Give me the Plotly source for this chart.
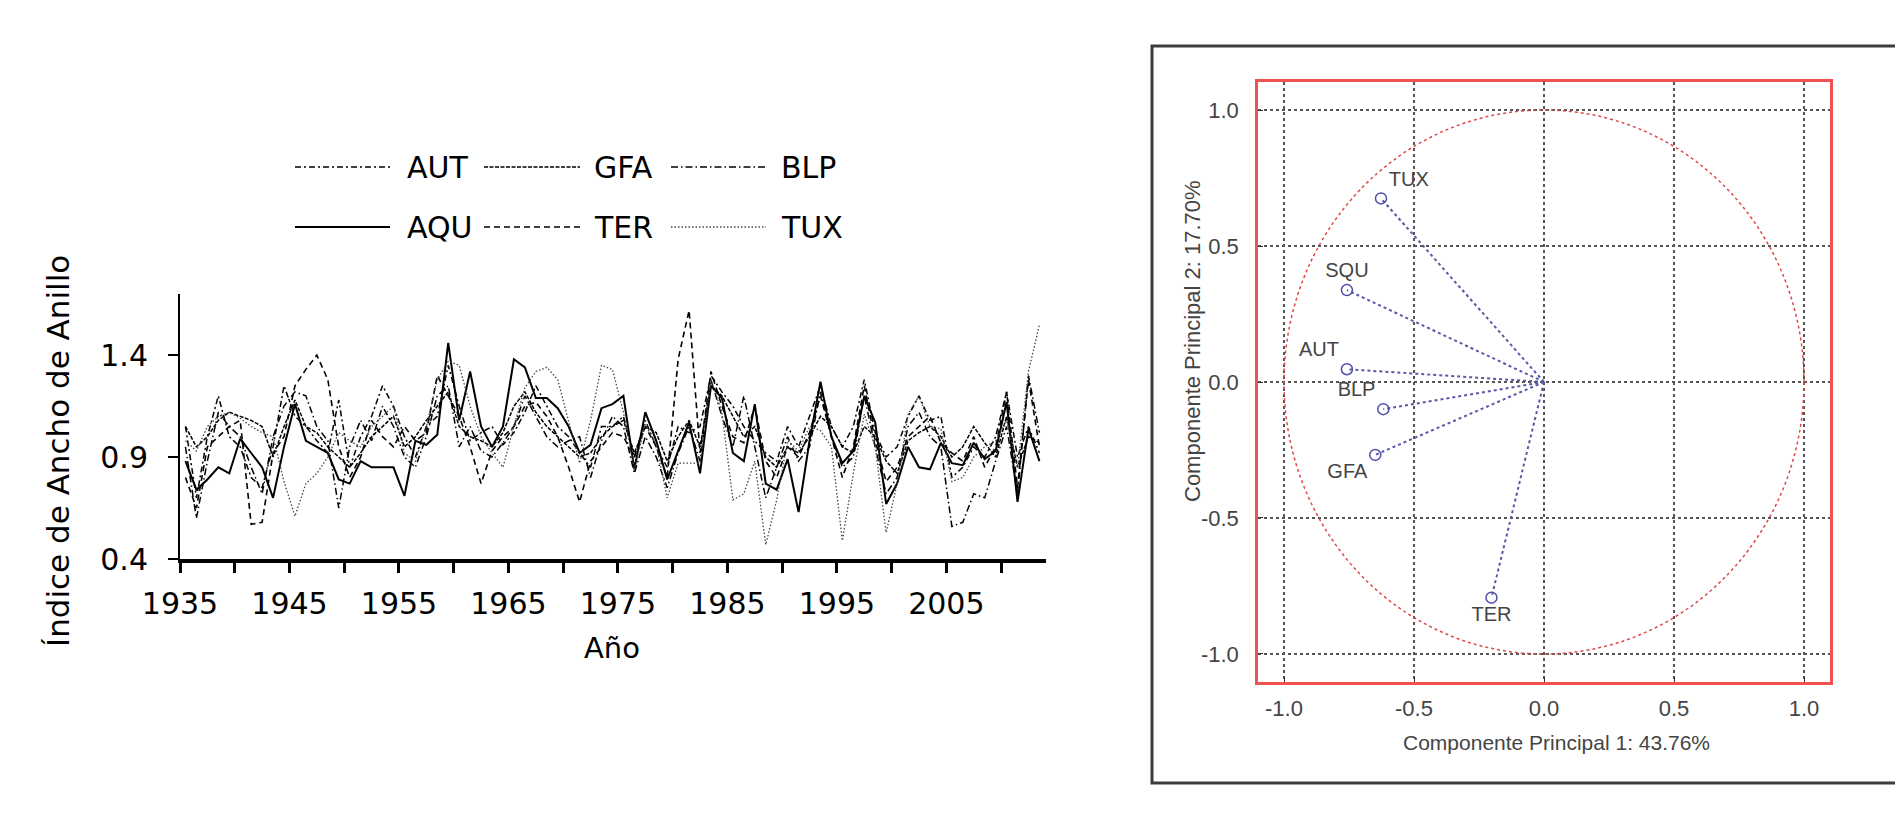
import plotly.graph_objects as go

W, H = 1903, 822
OFF = 8  # the page body margin shifts the figure by this many pixels

years = list(range(1935, 2014))

AQU = [0.88, 0.74, 0.79, 0.85, 0.82, 0.99, 0.92, 0.85, 0.70, 0.95,
       1.16, 0.98, 0.95, 0.92, 0.79, 0.77, 0.88, 0.85, 0.85, 0.85,
       0.71, 0.98, 0.96, 1.01, 1.46, 1.08, 1.32, 1.05, 0.95, 1.05,
       1.38, 1.34, 1.19, 1.19, 1.14, 1.05, 0.92, 0.96, 1.14, 1.16,
       1.20, 0.84, 1.12, 0.98, 0.79, 0.93, 1.07, 0.82, 1.25, 1.19,
       0.92, 0.88, 1.16, 0.77, 0.74, 0.89, 0.63, 0.98, 1.27, 1.00,
       0.87, 0.93, 1.20, 1.07, 0.67, 0.77, 0.95, 0.85, 0.84, 0.97,
       0.87, 0.86, 0.97, 0.89, 0.93, 1.17, 0.68, 1.04, 0.88]

TUX = [0.98, 0.93, 1.05, 1.10, 1.12, 1.09, 1.05, 1.02, 1.00, 0.78,
       0.61, 0.77, 0.82, 0.90, 1.02, 0.98, 0.95, 1.05, 1.10, 1.15,
       0.92, 0.88, 1.05, 1.28, 1.37, 1.35, 1.15, 1.00, 0.92, 0.85,
       1.05, 1.24, 1.32, 1.34, 1.28, 1.08, 0.87, 1.08, 1.35, 1.33,
       1.12, 0.84, 1.06, 0.96, 0.70, 0.87, 0.87, 0.87, 1.28, 1.12,
       0.69, 0.72, 0.88, 0.47, 0.69, 0.98, 0.93, 1.05, 1.03, 0.95,
       0.49, 0.82, 1.11, 0.95, 0.53, 0.77, 1.11, 1.20, 1.05, 1.04,
       0.78, 0.80, 0.90, 0.95, 0.98, 1.08, 0.85, 1.32, 1.55]

TER = [0.80, 0.65, 0.95, 1.00, 1.05, 1.08, 0.57, 0.58, 0.92, 1.00,
       1.25, 1.33, 1.40, 1.28, 0.95, 0.80, 0.90, 1.08, 1.00, 0.95,
       1.05, 0.98, 1.02, 1.30, 1.20, 1.10, 0.95, 0.77, 0.93, 1.00,
       1.05, 1.15, 1.17, 1.10, 1.00, 0.85, 0.68, 0.88, 0.95, 1.02,
       1.00, 0.90, 1.05, 0.95, 0.80, 1.38, 1.62, 0.92, 1.32, 1.15,
       1.00, 0.97, 1.15, 0.88, 0.80, 0.95, 0.90, 1.02, 1.20, 1.00,
       0.80, 0.95, 1.25, 0.98, 0.78, 0.85, 1.00, 1.05, 1.10, 0.97,
       0.92, 0.88, 1.00, 0.85, 0.95, 1.22, 0.75, 1.28, 0.95]

GFA = [1.05, 0.95, 1.00, 1.08, 1.12, 1.10, 1.08, 1.05, 0.90, 1.05,
       1.18, 1.05, 1.02, 0.95, 0.90, 0.85, 0.92, 1.00, 1.05, 1.10,
       0.95, 1.00, 1.08, 1.15, 1.22, 1.05, 1.00, 0.98, 0.95, 1.02,
       1.15, 1.22, 1.12, 1.05, 1.00, 0.95, 0.90, 0.92, 1.00, 1.05,
       1.08, 0.92, 1.05, 1.02, 0.88, 1.00, 1.08, 0.95, 1.25, 1.20,
       1.10, 1.00, 1.05, 0.90, 0.85, 0.95, 0.92, 1.00, 1.10, 1.05,
       0.95, 0.92, 1.05, 1.00, 0.88, 0.82, 0.98, 1.02, 1.05, 1.00,
       0.90, 0.95, 1.05, 0.97, 0.90, 1.10, 0.85, 1.00, 0.97]

AUT = [1.05, 0.70, 1.00, 1.20, 1.00, 0.95, 0.80, 0.75, 0.95, 1.25,
       1.10, 1.05, 0.98, 0.92, 1.18, 0.85, 1.00, 1.10, 1.25, 1.15,
       1.00, 0.90, 1.05, 1.10, 1.35, 1.15, 0.98, 1.02, 1.05, 0.96,
       1.02, 1.12, 1.25, 1.15, 1.05, 1.00, 0.92, 0.85, 1.05, 1.05,
       1.10, 0.90, 1.08, 0.95, 0.85, 1.05, 1.02, 1.05, 1.30, 1.22,
       1.15, 1.05, 0.98, 0.92, 0.88, 1.05, 0.95, 1.10, 1.25, 1.05,
       0.95, 1.05, 1.28, 1.02, 0.90, 0.95, 1.10, 1.20, 1.08, 1.10,
       0.80, 0.85, 0.95, 0.90, 1.00, 1.22, 0.90, 1.05, 0.92]

BLP = [0.95, 0.60, 0.88, 1.12, 1.05, 1.00, 0.85, 0.72, 1.00, 1.15,
       1.22, 1.20, 1.05, 0.98, 0.65, 0.95, 1.08, 0.98, 1.15, 1.05,
       0.90, 0.85, 1.00, 1.20, 1.25, 0.95, 1.05, 0.93, 0.90, 0.97,
       1.05, 1.20, 1.10, 1.00, 0.95, 0.98, 1.00, 0.80, 0.98, 1.10,
       1.05, 0.82, 1.00, 0.90, 0.75, 0.92, 1.05, 0.88, 1.28, 1.10,
       0.95, 1.20, 0.95, 0.70, 0.85, 1.00, 0.88, 0.95, 1.22, 1.00,
       0.85, 0.90, 1.20, 0.95, 0.72, 0.80, 1.05, 1.12, 1.00, 0.95,
       0.56, 0.58, 0.72, 0.70, 0.88, 1.05, 0.72, 1.30, 1.02]

# PCA loadings (component 1, component 2)
pca_names = ["TUX", "SQU", "AUT", "BLP", "GFA", "TER"]
pc1 = [-0.627, -0.758, -0.758, -0.618, -0.649, -0.202]
pc2 = [0.675, 0.338, 0.047, -0.100, -0.268, -0.793]
label_pos = ["top right", "top center", "top left", "top left", "bottom left", "bottom center"]

year_ticks = list(range(1935, 2015, 5))
year_labels = [str(y) if (y - 1935) % 10 == 0 else "" for y in year_ticks]


def px(x):
    return (x - OFF) / W


def py(y):
    return 1 - (y - OFF) / H


series = [
    ("AUT", AUT, "6px,3px,2px,3px", 1.5, "black"),
    ("GFA", GFA, "4px,1.5px", 1.5, "black"),
    ("BLP", BLP, "7px,3px,1.5px,3px", 1.5, "black"),
    ("AQU", AQU, "solid", 2, "black"),
    ("TER", TER, "6px,4px", 1.6, "black"),
    ("TUX", TUX, "1.5px,2px", 1.3, "#444444"),
]

fig = go.Figure()

for name, vals, dash, lw, col in series:
    fig.add_trace(go.Scatter(x=years, y=vals, mode="lines", name=name,
                             line=dict(color=col, width=lw, dash=dash),
                             xaxis="x", yaxis="y", showlegend=False))

# legend drawn by hand so the line samples are long like the original
leg_cols = [(295, 390, 405), (484, 580, 592), (671, 766, 779)]
leg_rows = [167, 227]
for i, (name, vals, dash, lw, col) in enumerate(series):
    c = leg_cols[i % 3]
    r = leg_rows[i // 3]
    fig.add_shape(type="line", xref="paper", yref="paper",
                  x0=px(c[0]), x1=px(c[1]), y0=py(r), y1=py(r),
                  line=dict(color=col, width=lw, dash=dash))
    fig.add_annotation(xref="paper", yref="paper", x=px(c[2]), y=py(r),
                       text=name, showarrow=False, xanchor="left", yanchor="middle",
                       font=dict(family="DejaVu Sans", size=30, color="black"))

# PCA lines from origin
for name, a, b in zip(pca_names, pc1, pc2):
    fig.add_trace(go.Scatter(x=[0, a], y=[0, b], mode="lines",
                             line=dict(color="#5858a8", width=2, dash="dot"),
                             xaxis="x2", yaxis="y2", showlegend=False, hoverinfo="skip"))

fig.add_trace(go.Scatter(x=pc1, y=pc2, mode="markers+text", text=pca_names,
                         textposition=label_pos,
                         textfont=dict(family="Liberation Sans, Arial", size=20, color="#444444"),
                         marker=dict(symbol="circle-open", size=11, color="#5050a8",
                                     line=dict(width=1.5, color="#5050a8")),
                         xaxis="x2", yaxis="y2", showlegend=False))

# unit circle
fig.add_shape(type="circle", xref="x2", yref="y2", x0=-1, y0=-1, x1=1, y1=1,
              line=dict(color="#e04848", width=1.5, dash="dot"), layer="above")

# frame around the right panel
fig.add_shape(type="rect", xref="paper", yref="paper",
              x0=px(1152), x1=px(1897), y0=py(783), y1=py(46),
              line=dict(color="#3c3c3c", width=3))

# axis titles
title_specs = [
    (58, 451, "Índice de Ancho de Anillo", -90, "DejaVu Sans", 31, "black"),
    (612, 648, "Año", 0, "DejaVu Sans", 29, "black"),
    (1556, 742, "Componente Principal 1: 43.76%", 0, "Liberation Sans, Arial", 21, "#444444"),
    (1192, 341, "Componente Principal 2: 17.70%", -90, "Liberation Sans, Arial", 22, "#444444"),
]
for tx, ty, txt, ang, fam, sz, col in title_specs:
    fig.add_annotation(xref="paper", yref="paper", x=px(tx), y=py(ty),
                       text=txt, textangle=ang, showarrow=False,
                       xanchor="center", yanchor="middle",
                       font=dict(family=fam, size=sz, color=col))

fig.update_layout(
    width=W, height=H,
    margin=dict(l=0, r=0, t=0, b=0, pad=0),
    paper_bgcolor="white", plot_bgcolor="white",
    xaxis=dict(domain=[px(180), px(1046)], range=[1934.5, 2013.6],
               tickvals=[y - 0.5 for y in year_ticks], ticktext=year_labels,
               showline=True, linecolor="black", linewidth=4,
               ticks="outside", ticklen=10, tickwidth=3, tickcolor="black",
               showgrid=False, zeroline=False, ticklabelstandoff=5, automargin=False,
               tickfont=dict(family="DejaVu Sans", size=30, color="black")),
    yaxis=dict(domain=[py(559), py(294)], range=[0.4, 1.7],
               tickvals=[0.4, 0.9, 1.4], ticktext=["0.4", "0.9", "1.4"],
               showline=True, linecolor="black", linewidth=2,
               ticks="outside", ticklen=10, tickwidth=2, tickcolor="black",
               showgrid=False, zeroline=False, ticklabelstandoff=14, automargin=False,
               tickfont=dict(family="DejaVu Sans", size=30, color="black")),
    xaxis2=dict(domain=[px(1258), px(1830)], range=[-1.1, 1.1], anchor="y2",
                tickvals=[-1, -0.5, 0, 0.5, 1], ticktext=["-1.0", "-0.5", "0.0", "0.5", "1.0"],
                showline=True, mirror=True, linecolor="#f05050", linewidth=2.5,
                showgrid=True, gridcolor="#555555", griddash="dot", gridwidth=1.5,
                ticks="inside", ticklen=5, tickcolor="#333333", zeroline=False,
                ticklabelstandoff=5, automargin=False,
                tickfont=dict(family="Liberation Sans, Arial", size=22, color="#444444")),
    yaxis2=dict(domain=[py(682), py(82)], range=[-1.103, 1.103], anchor="x2",
                tickvals=[-1, -0.5, 0, 0.5, 1], ticktext=["-1.0", "-0.5", "0.0", "0.5", "1.0"],
                showline=True, mirror=True, linecolor="#f05050", linewidth=2.5,
                showgrid=True, gridcolor="#555555", griddash="dot", gridwidth=1.5,
                ticks="inside", ticklen=5, tickcolor="#333333", zeroline=False,
                ticklabelstandoff=12, automargin=False,
                tickfont=dict(family="Liberation Sans, Arial", size=22, color="#444444")),
)

fig.write_html("out.html")
